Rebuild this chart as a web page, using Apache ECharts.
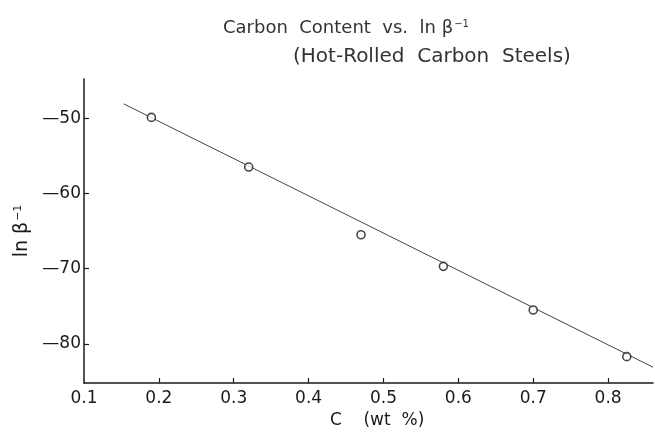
<!DOCTYPE html>
<html>
<head>
<meta charset="utf-8">
<script src="https://cdn.jsdelivr.net/npm/echarts@6/dist/echarts.min.js"></script>
<style>
  html, body { margin: 0; padding: 0; background: #fff; }
  #chart { width: 655px; height: 436px; }
</style>
</head>
<body>
<div id="chart"></div>
<script>
// Measured samples: carbon content (wt %) and ln(beta^-1)
var carbon = [0.19, 0.32, 0.47, 0.58, 0.70, 0.825];
var lnBeta = [-49.9, -56.5, -65.5, -69.7, -75.5, -81.7];

// Drawn straight-line fit (end points)
var fitCarbon = [0.153, 0.86];
var fitLnBeta = [-48.1, -83.1];

// Tick values
var xTicks = [0.1, 0.2, 0.3, 0.4, 0.5, 0.6, 0.7, 0.8];
var yTicks = [-50, -60, -70, -80];

var FONT = 'DejaVu Sans';
var INK = '#1a1a1a';

var chart = echarts.init(document.getElementById('chart'), null, { renderer: 'canvas' });

chart.setOption({
  animation: false,
  backgroundColor: '#ffffff',
  title: [
    {
      text: 'Carbon  Content  vs.  ln β{sup|−1}',
      left: 218, top: 14,
      textStyle: {
        fontFamily: FONT, fontSize: 18, fontWeight: 'normal', color: '#333',
        rich: { sup: { fontFamily: FONT, fontSize: 10, color: '#333', verticalAlign: 'top', padding: [0, 0, 9, 1] } }
      }
    },
    {
      text: '(Hot-Rolled  Carbon  Steels)',
      left: 288, top: 42,
      textStyle: { fontFamily: FONT, fontSize: 20, fontWeight: 'normal', color: '#333' }
    }
  ],
  grid: { left: 84, right: 2, top: 79, bottom: 53, containLabel: false },
  xAxis: {
    type: 'value',
    min: 0.1, max: 0.86,
    splitLine: { show: false },
    axisLine: { show: true, onZero: false, lineStyle: { color: INK, width: 1.5 } },
    axisTick: { show: true, inside: true, length: 5, customValues: xTicks.slice(1), lineStyle: { color: INK, width: 1.2 } },
    axisLabel: {
      customValues: xTicks,
      margin: 7,
      fontFamily: FONT, fontSize: 17, color: INK,
      formatter: function (v) { return v.toFixed(1); }
    }
  },
  yAxis: {
    type: 'value',
    min: -85.2, max: -44.8,
    name: 'ln β{sup|−1}',
    nameLocation: 'middle',
    nameGap: 41,
    nameRotate: 90,
    nameTextStyle: {
      fontFamily: FONT, fontSize: 19, color: INK,
      rich: { sup: { fontFamily: FONT, fontSize: 11, color: INK, verticalAlign: 'top', padding: [0, 0, 8, 1] } }
    },
    splitLine: { show: false },
    axisLine: { show: true, onZero: false, lineStyle: { color: INK, width: 1.5 } },
    axisTick: { show: true, inside: true, length: 5, customValues: yTicks, lineStyle: { color: INK, width: 1.2 } },
    axisLabel: {
      customValues: yTicks,
      margin: 3,
      fontFamily: FONT, fontSize: 17, color: INK,
      formatter: function (v) { return '—' + Math.abs(v); }
    }
  },
  graphic: [
    {
      type: 'text',
      left: 330, top: 412,
      style: { text: 'C    (wt  %)', fontFamily: FONT, fontSize: 17, fill: INK }
    }
  ],
  series: [
    {
      type: 'line',
      data: fitCarbon.map(function (c, i) { return [c, fitLnBeta[i]]; }),
      showSymbol: false,
      lineStyle: { color: '#444', width: 1 },
      silent: true,
      z: 1
    },
    {
      type: 'scatter',
      data: carbon.map(function (c, i) { return [c, lnBeta[i]]; }),
      symbol: 'circle',
      symbolSize: 8,
      itemStyle: { color: '#ffffff', borderColor: INK, borderWidth: 1.6 },
      z: 3
    }
  ]
});
</script>
</body>
</html>
